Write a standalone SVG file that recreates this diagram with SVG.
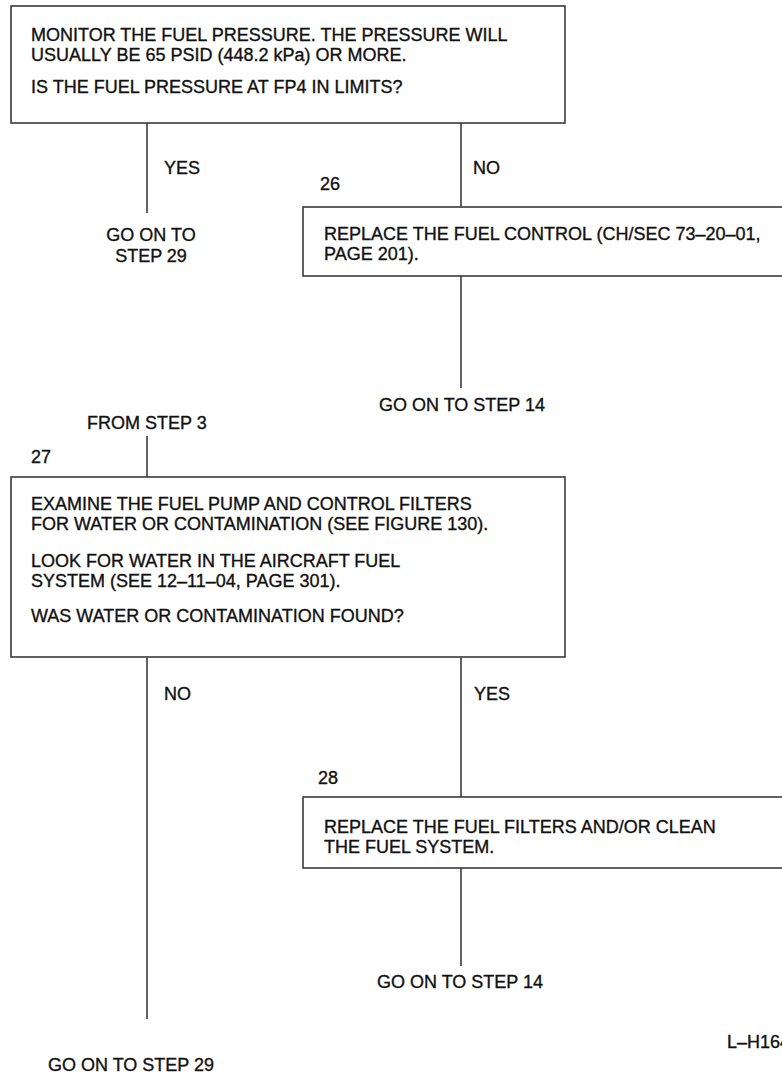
<svg xmlns="http://www.w3.org/2000/svg" width="782" height="1077" viewBox="0 0 782 1077">
  <style>
    .box { fill: #ffffff; stroke: #3a3a3a; stroke-width: 1.6; }
    .wire { fill: none; stroke: #3a3a3a; stroke-width: 1.6; }
    text { font-family: "Liberation Sans", Arial, sans-serif; font-size: 18px; fill: #111111; stroke: #111111; stroke-width: 0.35; }
    .mid { text-anchor: middle; }
  </style>
  <rect x="0" y="0" width="782" height="1077" fill="#ffffff"/>

  <!-- connectors -->
  <g id="connectors">
    <line class="wire" x1="147" y1="123" x2="147" y2="213"/>
    <line class="wire" x1="461" y1="123" x2="461" y2="207"/>
    <line class="wire" x1="461" y1="276" x2="461" y2="388"/>
    <line class="wire" x1="147" y1="436" x2="147" y2="477"/>
    <line class="wire" x1="147" y1="657" x2="147" y2="1019"/>
    <line class="wire" x1="461" y1="657" x2="461" y2="797"/>
    <line class="wire" x1="461" y1="868" x2="461" y2="966"/>
  </g>

  <!-- step 25: fuel pressure check -->
  <g id="step25">
    <rect class="box" x="11" y="6" width="554" height="117"/>
    <text x="31" y="41">MONITOR THE FUEL PRESSURE. THE PRESSURE WILL</text>
    <text x="31" y="61">USUALLY BE 65 PSID (448.2 kPa) OR MORE.</text>
    <text x="31" y="93">IS THE FUEL PRESSURE AT FP4 IN LIMITS?</text>
  </g>

  <g id="label-yes-25">
    <text x="164" y="174">YES</text>
  </g>
  <g id="label-no-25">
    <text x="473" y="174">NO</text>
  </g>

  <g id="goto-29-a">
    <text class="mid" x="151" y="241">GO ON TO</text>
    <text class="mid" x="151" y="262">STEP 29</text>
  </g>

  <!-- step 26: replace fuel control -->
  <g id="step26">
    <text x="320" y="190">26</text>
    <rect class="box" x="303" y="207" width="500" height="69"/>
    <text x="324" y="240">REPLACE THE FUEL CONTROL (CH/SEC 73–20–01,</text>
    <text x="324" y="260">PAGE 201).</text>
  </g>

  <g id="goto-14-a">
    <text class="mid" x="462" y="411">GO ON TO STEP 14</text>
  </g>

  <g id="from-step-3">
    <text x="87" y="429">FROM STEP 3</text>
  </g>

  <!-- step 27: filter / water inspection -->
  <g id="step27">
    <text x="31" y="463">27</text>
    <rect class="box" x="11" y="477" width="554" height="180"/>
    <text x="31" y="510">EXAMINE THE FUEL PUMP AND CONTROL FILTERS</text>
    <text x="31" y="530">FOR WATER OR CONTAMINATION (SEE FIGURE 130).</text>
    <text x="31" y="567">LOOK FOR WATER IN THE AIRCRAFT FUEL</text>
    <text x="31" y="587">SYSTEM (SEE 12–11–04, PAGE 301).</text>
    <text x="31" y="622">WAS WATER OR CONTAMINATION FOUND?</text>
  </g>

  <g id="label-no-27">
    <text x="164" y="700">NO</text>
  </g>
  <g id="label-yes-27">
    <text x="474" y="700">YES</text>
  </g>

  <!-- step 28: replace filters / clean system -->
  <g id="step28">
    <text x="318" y="784">28</text>
    <rect class="box" x="303" y="797" width="500" height="71"/>
    <text x="324" y="833">REPLACE THE FUEL FILTERS AND/OR CLEAN</text>
    <text x="324" y="853">THE FUEL SYSTEM.</text>
  </g>

  <g id="goto-14-b">
    <text class="mid" x="460" y="988">GO ON TO STEP 14</text>
  </g>

  <g id="goto-29-b">
    <text x="48" y="1071">GO ON TO STEP 29</text>
  </g>

  <g id="figure-id">
    <text x="727" y="1048">L–H164</text>
  </g>
</svg>
